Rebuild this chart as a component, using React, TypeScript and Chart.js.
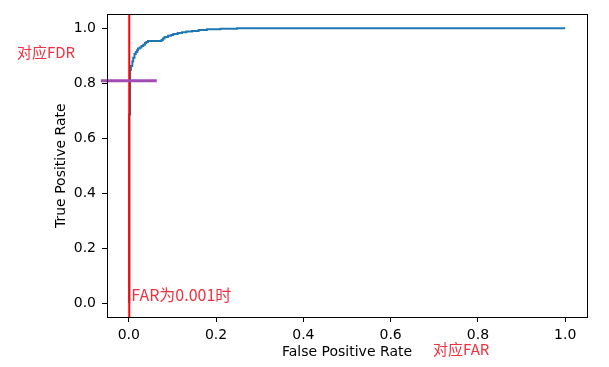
import React, { useEffect, useRef } from "react";
import { Chart, registerables } from "chart.js";

Chart.register(...registerables);

// ROC curve corner points (tops of each vertical step)
const fpr = [0.001, 0.001, 0.003, 0.003, 0.005, 0.008, 0.010, 0.013, 0.016, 0.019, 0.021, 0.025, 0.029, 0.033, 0.037, 0.040, 0.044, 0.075, 0.078, 0.082, 0.090, 0.097, 0.102, 0.112, 0.122, 0.132, 0.145, 0.160, 0.179, 0.210, 0.248, 1.0];
const tpr = [0, 0.686, 0.686, 0.849, 0.862, 0.879, 0.892, 0.906, 0.913, 0.920, 0.926, 0.930, 0.935, 0.940, 0.946, 0.950, 0.953, 0.957, 0.962, 0.968, 0.972, 0.975, 0.979, 0.982, 0.985, 0.988, 0.990, 0.993, 0.996, 0.998, 1.0, 1.0];

const farX = [0.001, 0.001];
const farY = [-0.05, 1.05];
const fdrX = [-0.064, 0.064];
const fdrY = [0.809, 0.809];

const xTicks = [0, 0.2, 0.4, 0.6, 0.8, 1.0];
const yTicks = [0, 0.2, 0.4, 0.6, 0.8, 1.0];

const xTitle = "False Positive Rate";
const yTitle = "True Positive Rate";
const noteFDR = "对应FDR";
const noteFARAt = "FAR为0.001时";
const noteFAR = "对应FAR";

export default function App() {
  const ref = useRef<HTMLCanvasElement | null>(null);

  useEffect(() => {
    if (!ref.current) return;
    const tickFont = { family: "'DejaVu Sans', sans-serif", size: 14 };
    const boxPlugin = {
      id: "box",
      afterDatasetsDraw(chart: any) {
        const { ctx, chartArea: a } = chart;
        ctx.save();
        ctx.strokeStyle = "#000";
        ctx.lineWidth = 1;
        ctx.strokeRect(Math.round(a.left) + 0.5, Math.round(a.top) + 0.5, Math.round(a.right - a.left), Math.round(a.bottom - a.top));
        ctx.restore();
      },
      afterDraw(chart: any) {
        const { ctx, scales } = chart;
        ctx.save();
        ctx.fillStyle = "rgb(238,50,65)";
        ctx.textBaseline = "middle";
        ctx.textAlign = "left";
        ctx.font = "15px 'Noto Sans CJK SC', sans-serif";
        ctx.fillText(noteFDR, 17, 52);
        ctx.fillText(noteFAR, 433, 349);
        ctx.font = "16px 'Noto Sans CJK SC', sans-serif";
        ctx.fillText(noteFARAt, scales.x.getPixelForValue(farX[0]) + 2, scales.y.getPixelForValue(0.03));
        ctx.restore();
      },
    };

    const chart = new Chart(ref.current, {
      type: "line",
      data: {
        datasets: [
          {
            data: fpr.map((x, i) => ({ x, y: tpr[i] })),
            borderColor: "#1f77b4",
            borderWidth: 2,
            pointRadius: 0,
            stepped: "before",
            fill: false,
            order: 3,
          },
          {
            data: farX.map((x, i) => ({ x, y: farY[i] })),
            borderColor: "#ff0000",
            borderWidth: 2,
            pointRadius: 0,
            fill: false,
            order: 2,
          },
          {
            data: fdrX.map((x, i) => ({ x, y: fdrY[i] })),
            borderColor: "#a24bb5",
            borderWidth: 3,
            pointRadius: 0,
            fill: false,
            clip: false,
            order: 1,
          },
        ],
      },
      options: {
        responsive: false,
        animation: false,
        layout: { padding: { left: 0, top: 5, right: 22, bottom: 0 } },
        plugins: { legend: { display: false }, tooltip: { enabled: false } },
        scales: {
          x: {
            type: "linear",
            min: -0.05,
            max: 1.05,
            afterBuildTicks: (s: any) => { s.ticks = xTicks.map((v) => ({ value: v })); },
            afterFit: (s: any) => { s.height = 50; },
            ticks: { font: tickFont, color: "#000", padding: 5, callback: (v: any) => Number(v).toFixed(1), maxRotation: 0 },
            grid: { display: true, drawOnChartArea: false, drawTicks: true, tickLength: 5, color: "#000" },
            border: { display: false },
            title: { display: true, text: xTitle, font: tickFont, color: "#000", padding: { top: 0, bottom: 6 } },
          },
          y: {
            type: "linear",
            min: -0.05,
            max: 1.05,
            afterBuildTicks: (s: any) => { s.ticks = yTicks.map((v) => ({ value: v })); },
            afterFit: (s: any) => { s.width = 107; },
            ticks: { font: tickFont, color: "#000", padding: 6, callback: (v: any) => Number(v).toFixed(1) },
            grid: { display: true, drawOnChartArea: false, drawTicks: true, tickLength: 5, color: "#000" },
            border: { display: false },
            title: { display: true, text: yTitle, font: tickFont, color: "#000", padding: { top: 53, bottom: 0 } },
          },
        },
      },
      plugins: [boxPlugin],
    } as any);
    return () => chart.destroy();
  }, []);

  return (
    <div style={{ position: "fixed", left: 0, top: 0, width: 609, height: 367, background: "#fff" }}>
      <canvas ref={ref} width={609} height={367} style={{ width: 609, height: 367 }} />
    </div>
  );
}
